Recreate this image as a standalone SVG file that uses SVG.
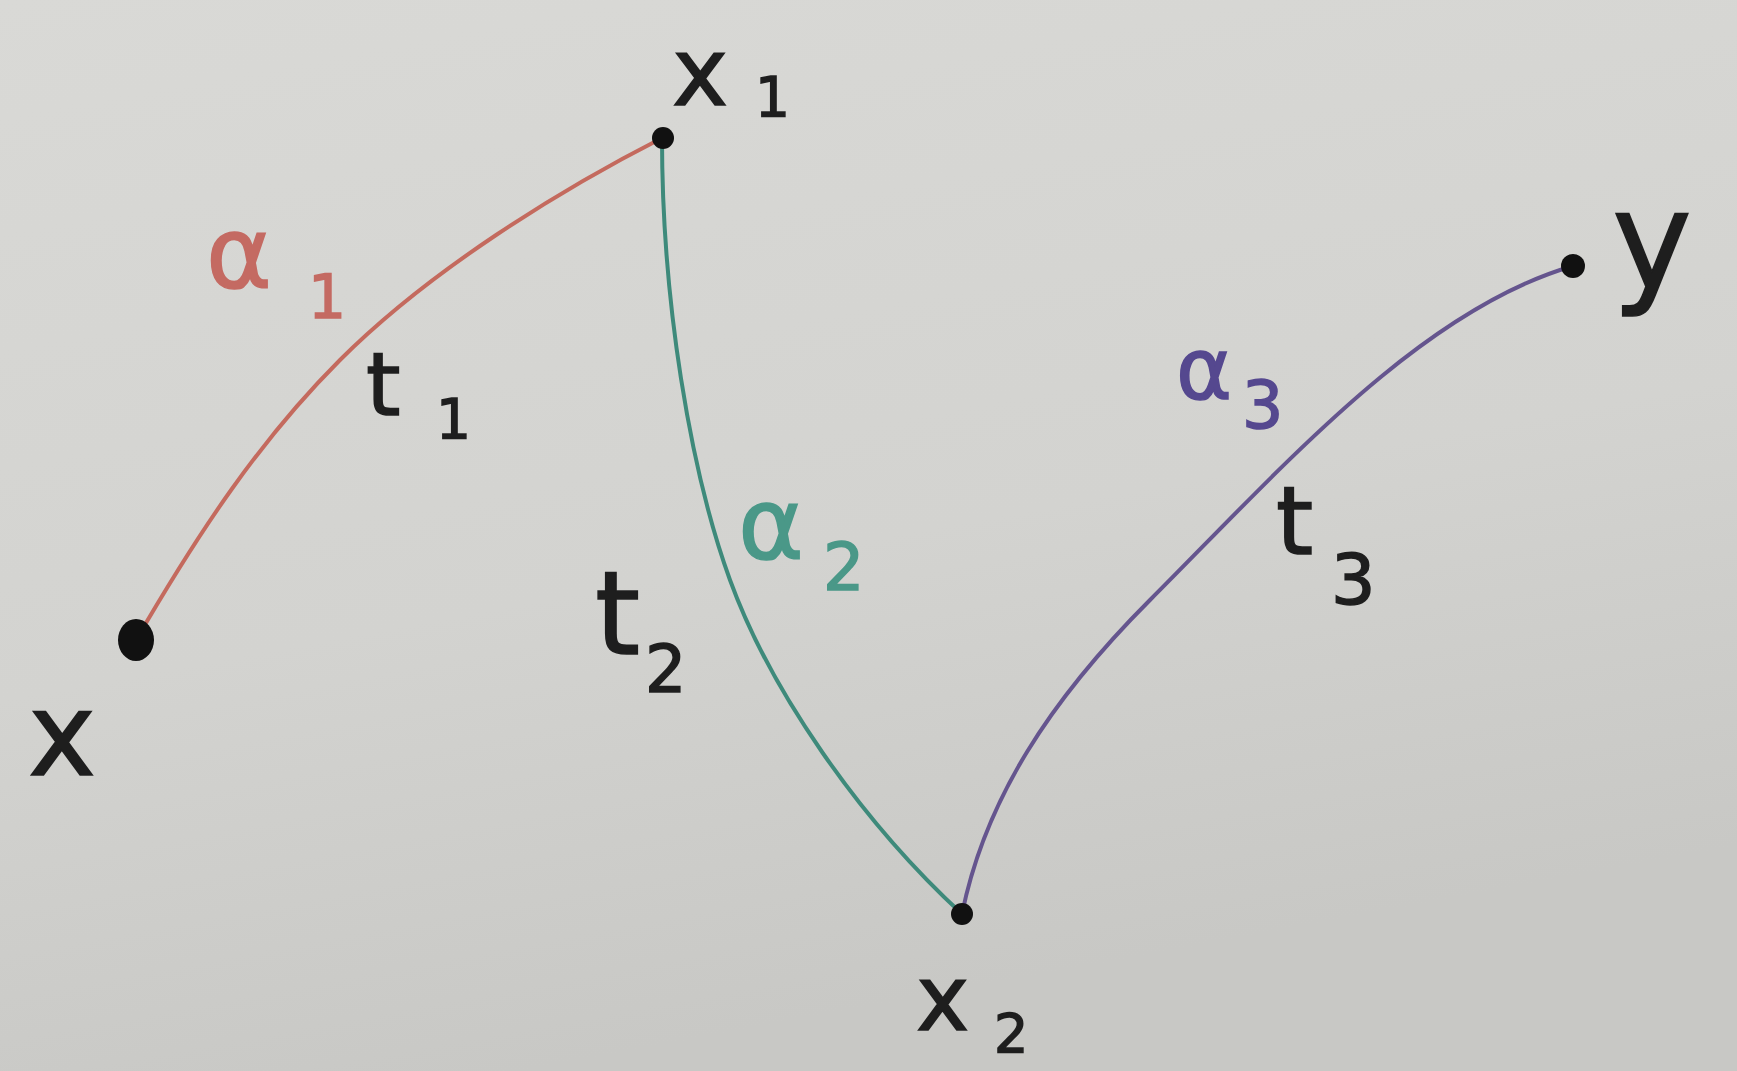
<svg xmlns="http://www.w3.org/2000/svg" width="1737" height="1071" viewBox="0 0 1737 1071">
  <defs>
    <linearGradient id="paper" x1="0" y1="0" x2="0.3" y2="1">
      <stop offset="0" stop-color="#d9d9d6"/>
      <stop offset="0.6" stop-color="#d3d3d0"/>
      <stop offset="1" stop-color="#c8c8c5"/>
    </linearGradient>
  </defs>
  <style>
    .lbl { font-family: "DejaVu Sans", "Liberation Sans", sans-serif; fill: #1e1e1e; stroke: #1e1e1e; stroke-width: 1.5; }
    .sub { font-family: "DejaVu Sans", "Liberation Sans", sans-serif; fill: #1e1e1e; stroke: #1e1e1e; stroke-width: 1.5; }
    .dot { fill: #111; }
    .edge { fill: none; stroke-width: 4; stroke-linecap: round; }
    .red { stroke: #c46a5e; }
    .teal { stroke: #3e8a7b; }
    .purple { stroke: #65558e; }
    .tred { fill: #c46a62; stroke: #c46a62; }
    .tteal { fill: #4a9888; stroke: #4a9888; }
    .tpurple { fill: #55488f; stroke: #55488f; }
  </style>
  <rect x="0" y="0" width="1737" height="1071" fill="url(#paper)"/>

  <g id="connectors">
    <path class="edge red" d="M136,640 C200,530 260,440 340,360 C430,270 560,190 662,138"/>
    <path class="edge teal" d="M662,138 C662,300 690,470 730,580 C770,690 860,820 962,914"/>
    <path class="edge purple" d="M962,914 C985,800 1050,700 1150,600 C1280,470 1420,310 1573,266"/>
  </g>

  <g id="edge-labels">
    <g id="label-alpha1">
      <text class="lbl tred" x="206" y="288" font-size="100">α</text>
      <text class="sub tred" x="308" y="318" font-size="60">1</text>
    </g>
    <g id="label-t1">
      <text class="lbl" x="366" y="415" font-size="88">t</text>
      <text class="sub" x="436" y="438" font-size="55">1</text>
    </g>
    <g id="label-alpha2">
      <text class="lbl tteal" x="738" y="559" font-size="100">α</text>
      <text class="sub tteal" x="823" y="590" font-size="65">2</text>
    </g>
    <g id="label-t2">
      <text class="lbl" x="595" y="654" font-size="115">t</text>
      <text class="sub" x="645" y="692" font-size="65">2</text>
    </g>
    <g id="label-alpha3">
      <text class="lbl tpurple" x="1176" y="399" font-size="85">α</text>
      <text class="sub tpurple" x="1242" y="428" font-size="65">3</text>
    </g>
    <g id="label-t3">
      <text class="lbl" x="1276" y="554" font-size="95">t</text>
      <text class="sub" x="1331" y="604" font-size="70">3</text>
    </g>
  </g>

  <g id="node-x">
    <ellipse class="dot" cx="136" cy="640" rx="18" ry="21"/>
    <text class="lbl" x="28" y="775" font-size="115">x</text>
  </g>
  <g id="node-x1">
    <circle class="dot" cx="663" cy="138" r="11"/>
    <text class="lbl" x="672" y="105" font-size="95">x</text>
    <text class="sub" x="755" y="116" font-size="55">1</text>
  </g>
  <g id="node-x2">
    <circle class="dot" cx="962" cy="914" r="11"/>
    <text class="lbl" x="916" y="1030" font-size="90">x</text>
    <text class="sub" x="994" y="1052" font-size="54">2</text>
  </g>
  <g id="node-y">
    <circle class="dot" cx="1573" cy="266" r="12"/>
    <text class="lbl" x="1612" y="288" font-size="135">y</text>
  </g>
</svg>
